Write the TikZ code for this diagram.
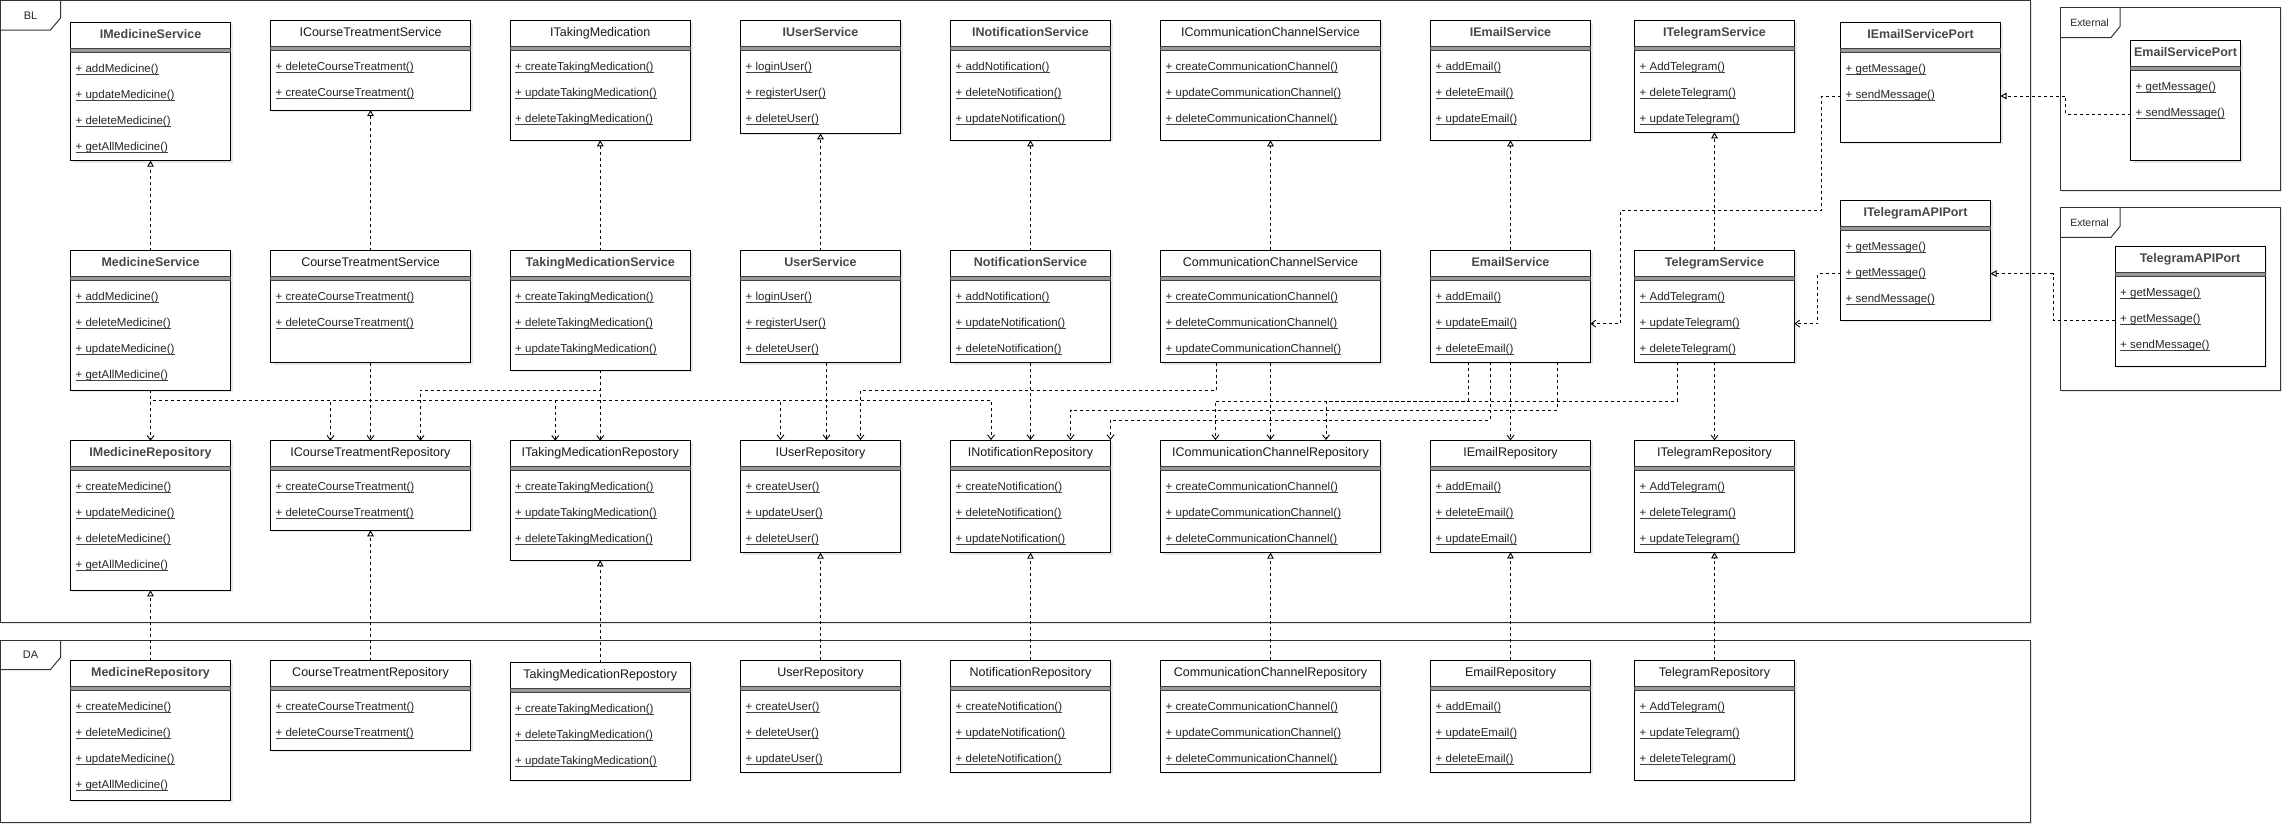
\documentclass[tikz,border=0pt]{standalone}
\usepackage{fontspec}
\setmainfont{Liberation Sans}
\usetikzlibrary{arrows.meta,shadows}

\newcommand\titlefont{\fontsize{12.5}{15}\selectfont}
\newcommand\methfont{\fontsize{11.5}{14}\selectfont}
\newcommand\bt{\bfseries\color{black!72}}

\tikzset{
  classbox/.style={draw=black, line width=1pt, fill=white, inner sep=0pt, outer sep=0pt,
    drop shadow={shadow xshift=2pt, shadow yshift=-2pt, opacity=0.18}},
  titletext/.style={inner sep=0pt, text=black!90, text height=9pt, text depth=2.5pt},
  methodtext/.style={anchor=west, inner sep=0pt, font=\methfont, text=black!85, text height=8.5pt, text depth=3pt},
  ulstyle/.style={line width=0.7pt, black!75},
  sepstyle/.style={draw=black!75, fill=black!40, line width=0.8pt},
  framebox/.style={draw=black!80, line width=1pt, fill=white, inner sep=0pt, outer sep=0pt,
    drop shadow={shadow xshift=1.5pt, shadow yshift=-1.5pt, opacity=0.2}},
  tabline/.style={draw=black!80, line width=1pt},
  framelabel/.style={inner sep=0pt, font=\fontsize{11}{13}\selectfont, text=black!85},
  dline/.style={line width=0.9pt, dash pattern=on 3pt off 3pt, black},
  dep/.style={dline, -{Straight Barb[length=4.5pt,width=7pt]}},
  real/.style={dline, -{Triangle[open,length=6pt,width=6.5pt,fill=white]}},
}

% #1 name, #2 x, #3 y, #4 w, #5 h, #6 weight, #7 title, #8 methods
\newcommand\umlclass[8]{%
  \node[classbox, minimum width=#4pt, minimum height=#5pt, anchor=north west] (#1) at (#2,#3) {};
  \node[titletext, font=\titlefont] (#1-t) at ([yshift=-13pt]#1.north) {#6#7};
  \filldraw[sepstyle] ([yshift=-26pt]#1.north west) rectangle ([yshift=-30pt]#1.north east);
  \foreach \m [count=\i] in {#8} {
    \node[methodtext] (#1-m\i) at ([xshift=5pt,yshift={-47.3pt-26pt*(\i-1)}]#1.north west) {\m};
    \draw[ulstyle] ([yshift=-1.8pt]#1-m\i.base west) -- ([yshift=-1.8pt]#1-m\i.base east);
  }%
}

\begin{document}
\begin{tikzpicture}[x=1pt,y=-1pt]
\useasboundingbox[fill=white] (0,0) rectangle (2292,835);

% ---------- frames ----------
\node[framebox, minimum width=2029.5pt, minimum height=622pt, anchor=north west] (BL) at (0.5,0.5) {};
\draw[tabline] ([xshift=60pt]BL.north west) -- ++(0,17.5) -- ++(-10,12) -- ++(-50,0);
\node[framelabel] (BL-label) at ([xshift=30pt,yshift=-15pt]BL.north west) {BL};

\node[framebox, minimum width=2029.5pt, minimum height=182.5pt, anchor=north west] (DA) at (0.5,640) {};
\draw[tabline] ([xshift=60pt]DA.north west) -- ++(0,17.5) -- ++(-10,12) -- ++(-50,0);
\node[framelabel] (DA-label) at ([xshift=30pt,yshift=-15pt]DA.north west) {DA};

\node[framebox, minimum width=220pt, minimum height=183pt, anchor=north west] (Ext1) at (2060.5,7.5) {};
\draw[tabline] ([xshift=59.5pt]Ext1.north west) -- ++(0,19) -- ++(-9,11) -- ++(-50.5,0);
\node[framelabel, font=\fontsize{10.5}{12}\selectfont] (Ext1-label) at ([xshift=29pt,yshift=-15pt]Ext1.north west) {External};

\node[framebox, minimum width=220pt, minimum height=183pt, anchor=north west] (Ext2) at (2060.5,207.3) {};
\draw[tabline] ([xshift=59.5pt]Ext2.north west) -- ++(0,19) -- ++(-9,11) -- ++(-50.5,0);
\node[framelabel, font=\fontsize{10.5}{12}\selectfont] (Ext2-label) at ([xshift=29pt,yshift=-15pt]Ext2.north west) {External};

% ---------- row 1 ----------
\umlclass{IMedicineService}{70.5}{22.7}{160}{138}{\bt}{IMedicineService}{+ addMedicine(),+ updateMedicine(),+ deleteMedicine(),+ getAllMedicine()}
\umlclass{ICourseTreatmentService}{270.5}{20.7}{200}{89.3}{}{ICourseTreatmentService}{+ deleteCourseTreatment(),+ createCourseTreatment()}
\umlclass{ITakingMedication}{510}{20.7}{180.5}{119.6}{}{ITakingMedication}{+ createTakingMedication(),+ updateTakingMedication(),+ deleteTakingMedication()}
\umlclass{IUserService}{740.5}{20.7}{160}{112.6}{\bt}{IUserService}{+ loginUser(),+ registerUser(),+ deleteUser()}
\umlclass{INotificationService}{950.5}{20.7}{160}{119.6}{\bt}{INotificationService}{+ addNotification(),+ deleteNotification(),+ updateNotification()}
\umlclass{ICommunicationChannelService}{1160.5}{20}{220}{120.3}{}{ICommunicationChannelService}{+ createCommunicationChannel(),+ updateCommunicationChannel(),+ deleteCommunicationChannel()}
\umlclass{IEmailService}{1430.5}{20.7}{160}{119.6}{\bt}{IEmailService}{+ addEmail(),+ deleteEmail(),+ updateEmail()}
\umlclass{ITelegramService}{1634.5}{20.7}{160}{111.6}{\bt}{ITelegramService}{+ AddTelegram(),+ deleteTelegram(),+ updateTelegram()}
\umlclass{IEmailServicePort}{1840.5}{22.7}{160}{119.6}{\bt}{IEmailServicePort}{+ getMessage(),+ sendMessage()}

% ---------- row 2 ----------
\umlclass{MedicineService}{70.5}{250.7}{160}{139.6}{\bt}{MedicineService}{+ addMedicine(),+ deleteMedicine(),+ updateMedicine(),+ getAllMedicine()}
\umlclass{CourseTreatmentService}{270.5}{250.7}{200}{112}{}{CourseTreatmentService}{+ createCourseTreatment(),+ deleteCourseTreatment()}
\umlclass{TakingMedicationService}{510}{250.7}{180.5}{119.3}{\bt}{TakingMedicationService}{+ createTakingMedication(),+ deleteTakingMedication(),+ updateTakingMedication()}
\umlclass{UserService}{740.5}{250.7}{160}{112}{\bt}{UserService}{+ loginUser(),+ registerUser(),+ deleteUser()}
\umlclass{NotificationService}{950.5}{250.7}{160}{112}{\bt}{NotificationService}{+ addNotification(),+ updateNotification(),+ deleteNotification()}
\umlclass{CommunicationChannelService}{1160.5}{250}{220}{112.7}{}{CommunicationChannelService}{+ createCommunicationChannel(),+ deleteCommunicationChannel(),+ updateCommunicationChannel()}
\umlclass{EmailService}{1430.5}{250.3}{160}{112}{\bt}{EmailService}{+ addEmail(),+ updateEmail(),+ deleteEmail()}
\umlclass{TelegramService}{1634.5}{250.3}{160}{112}{\bt}{TelegramService}{+ AddTelegram(),+ updateTelegram(),+ deleteTelegram()}
\umlclass{ITelegramAPIPort}{1840.5}{200.3}{150}{119.7}{\bt}{ITelegramAPIPort}{+ getMessage(),+ getMessage(),+ sendMessage()}

% ---------- row 3 ----------
\umlclass{IMedicineRepository}{70.5}{440.7}{160}{149.6}{\bt}{IMedicineRepository}{+ createMedicine(),+ updateMedicine(),+ deleteMedicine(),+ getAllMedicine()}
\umlclass{ICourseTreatmentRepository}{270.5}{440.7}{200}{89.6}{}{ICourseTreatmentRepository}{+ createCourseTreatment(),+ deleteCourseTreatment()}
\umlclass{ITakingMedicationRepostory}{510}{440.7}{180.5}{119.6}{}{ITakingMedicationRepostory}{+ createTakingMedication(),+ updateTakingMedication(),+ deleteTakingMedication()}
\umlclass{IUserRepository}{740.5}{440}{160}{112.7}{}{IUserRepository}{+ createUser(),+ updateUser(),+ deleteUser()}
\umlclass{INotificationRepository}{950.5}{440}{160}{112.7}{}{INotificationRepository}{+ createNotification(),+ deleteNotification(),+ updateNotification()}
\umlclass{ICommunicationChannelRepository}{1160.5}{440}{220}{112.7}{}{ICommunicationChannelRepository}{+ createCommunicationChannel(),+ updateCommunicationChannel(),+ deleteCommunicationChannel()}
\umlclass{IEmailRepository}{1430.5}{440.3}{160}{112}{}{IEmailRepository}{+ addEmail(),+ deleteEmail(),+ updateEmail()}
\umlclass{ITelegramRepository}{1634.5}{440.3}{160}{112}{}{ITelegramRepository}{+ AddTelegram(),+ deleteTelegram(),+ updateTelegram()}

% ---------- row 4 (DA) ----------
\umlclass{MedicineRepository}{70.5}{660.7}{160}{139.6}{\bt}{MedicineRepository}{+ createMedicine(),+ deleteMedicine(),+ updateMedicine(),+ getAllMedicine()}
\umlclass{CourseTreatmentRepository}{270.5}{660.7}{200}{89.6}{}{CourseTreatmentRepository}{+ createCourseTreatment(),+ deleteCourseTreatment()}
\umlclass{TakingMedicationRepostory}{510}{662.7}{180.5}{117.3}{}{TakingMedicationRepostory}{+ createTakingMedication(),+ deleteTakingMedication(),+ updateTakingMedication()}
\umlclass{UserRepository}{740.5}{660.3}{160}{112}{}{UserRepository}{+ createUser(),+ deleteUser(),+ updateUser()}
\umlclass{NotificationRepository}{950.5}{660.3}{160}{112}{}{NotificationRepository}{+ createNotification(),+ updateNotification(),+ deleteNotification()}
\umlclass{CommunicationChannelRepository}{1160.5}{660.3}{220}{112}{}{CommunicationChannelRepository}{+ createCommunicationChannel(),+ updateCommunicationChannel(),+ deleteCommunicationChannel()}
\umlclass{EmailRepository}{1430.5}{660.3}{160}{112}{}{EmailRepository}{+ addEmail(),+ updateEmail(),+ deleteEmail()}
\umlclass{TelegramRepository}{1634.5}{660.3}{160}{120}{}{TelegramRepository}{+ AddTelegram(),+ updateTelegram(),+ deleteTelegram()}

% ---------- external ----------
\umlclass{EmailServicePort}{2130.5}{40.7}{110}{120}{\bt}{EmailServicePort}{+ getMessage(),+ sendMessage()}
\umlclass{TelegramAPIPort}{2115}{246.7}{150}{119.3}{\bt}{TelegramAPIPort}{+ getMessage(),+ getMessage(),+ sendMessage()}

% ---------- realizations ----------
\draw[real] (MedicineService.north) -- (IMedicineService.south);
\draw[real] (CourseTreatmentService.north) -- (ICourseTreatmentService.south);
\draw[real] (TakingMedicationService.north) -- (ITakingMedication.south);
\draw[real] (UserService.north) -- (IUserService.south);
\draw[real] (NotificationService.north) -- (INotificationService.south);
\draw[real] (CommunicationChannelService.north) -- (ICommunicationChannelService.south);
\draw[real] (EmailService.north) -- (IEmailService.south);
\draw[real] (TelegramService.north) -- (ITelegramService.south);
\draw[real] (MedicineRepository.north) -- (IMedicineRepository.south);
\draw[real] (CourseTreatmentRepository.north) -- (ICourseTreatmentRepository.south);
\draw[real] (TakingMedicationRepostory.north) -- (ITakingMedicationRepostory.south);
\draw[real] (UserRepository.north) -- (IUserRepository.south);
\draw[real] (NotificationRepository.north) -- (INotificationRepository.south);
\draw[real] (CommunicationChannelRepository.north) -- (ICommunicationChannelRepository.south);
\draw[real] (EmailRepository.north) -- (IEmailRepository.south);
\draw[real] (TelegramRepository.north) -- (ITelegramRepository.south);
\draw[real] (EmailServicePort.west |- EmailServicePort-m2) -- ++(-65,0) |- (IEmailServicePort.east |- IEmailServicePort-m2);
\draw[real] (TelegramAPIPort.west |- TelegramAPIPort-m2) -- ++(-62,0) |- (ITelegramAPIPort.east |- ITelegramAPIPort-m2);

% ---------- dependencies ----------
\draw[dep] (MedicineService.south) -- (IMedicineRepository.north);
\draw[dep] (MedicineService.south) -- ++(0,9.7) -| ([xshift=-40pt]ICourseTreatmentRepository.north);
\draw[dep] (MedicineService.south) -- ++(0,9.7) -| ([xshift=-45pt]ITakingMedicationRepostory.north);
\draw[dep] (MedicineService.south) -- ++(0,9.7) -| ([xshift=-40pt]IUserRepository.north);
\draw[dep] (MedicineService.south) -- ++(0,9.7) -| ([xshift=-39.5pt]INotificationRepository.north);
\draw[dep] (CourseTreatmentService.south) -- (ICourseTreatmentRepository.north);
\draw[dep] (TakingMedicationService.south) -- (ITakingMedicationRepostory.north);
\draw[dep] (TakingMedicationService.south) -- ++(0,20) -| ([xshift=50pt]ICourseTreatmentRepository.north);
\draw[dep] ([xshift=6pt]UserService.south) -- ([xshift=6pt]IUserRepository.north);
\draw[dep] (NotificationService.south) -- (INotificationRepository.north);
\draw[dep] (CommunicationChannelService.south) -- (ICommunicationChannelRepository.north);
\draw[dep] ([xshift=-54pt]CommunicationChannelService.south) -- ++(0,27.3) -| ([xshift=40pt]IUserRepository.north);
\draw[dep] (EmailService.south) -- (IEmailRepository.north);
\draw[dep] ([xshift=-42pt]EmailService.south) -- ++(0,38.7) -| ([xshift=-55pt]ICommunicationChannelRepository.north);
\draw[dep] ([xshift=-37pt]TelegramService.south) -- ++(0,38.7) -| ([xshift=55.5pt]ICommunicationChannelRepository.north);
\draw[dep] ([xshift=47pt]EmailService.south) -- ++(0,47.7) -| ([xshift=40pt]INotificationRepository.north);
\draw[dep] ([xshift=-20pt]EmailService.south) -- ++(0,57.7) -| (INotificationRepository.north east);
\draw[dep] (TelegramService.south) -- (ITelegramRepository.north);
\draw[dep] (IEmailServicePort.west |- IEmailServicePort-m2) -| ++(-19.5,114) -| ([xshift=30pt]EmailService.east |- EmailService-m2) -- (EmailService.east |- EmailService-m2);
\draw[dep] (ITelegramAPIPort.west |- ITelegramAPIPort-m2) -| ([xshift=23pt]TelegramService.east |- TelegramService-m2) -- (TelegramService.east |- TelegramService-m2);

\end{tikzpicture}
\end{document}
